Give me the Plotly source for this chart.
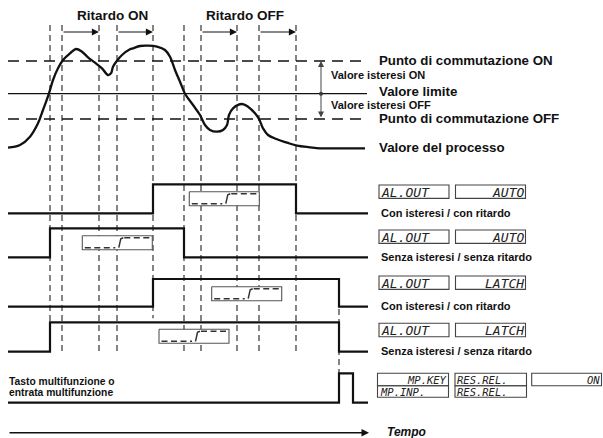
import plotly.graph_objects as go

W, H = 603, 438

# ---------------- data ----------------
# x positions (time) of the dashed event lines
event_times = [50, 62, 99, 117, 153, 184, 201, 237, 259, 296]
reset_time = 339
t_start, t_end = 8, 368

# process value curve (time, value)
process_t = [8, 20, 30, 38, 43, 49, 53, 58, 63, 70, 76, 82, 88, 95, 102, 108, 111,
             113, 117, 122, 130, 133, 140, 148, 157, 165, 170, 175, 180, 185, 193,
             200, 205, 210, 217, 223, 227, 229, 233, 242, 248, 255, 259, 263, 268,
             277, 287, 297, 310, 320, 333, 365]
process_v = [147.7, 145, 136.7, 123.3, 110, 93.3, 80, 68.3, 60, 53.3, 49, 51.7,
             57.3, 62.7, 68.3, 75, 73.3, 66.7, 60.7, 55, 49.3, 48.3, 46, 45.7, 46.7,
             50, 56.7, 70, 81.7, 93.7, 105, 115, 125, 130, 131.7, 130, 125, 115,
             108.3, 104, 106.7, 113.3, 119, 128.3, 135, 139.3, 142.7, 145.7, 147.3,
             148.3, 148.3, 148.3]

switch_on_level = 61
limit_level = 93.7
switch_off_level = 119

# delay intervals (start, end)
delay_on = [(62, 99), (117, 153)]
delay_off = [(201, 237), (259, 296)]

# output signals: switching times and states
sig1_t = [8, 153, 296, 368]
sig1_s = [0, 1, 0, 0]
sig2_t = [8, 50, 184, 368]
sig2_s = [0, 1, 0, 0]
sig3_t = [8, 153, 339, 368]
sig3_s = [0, 1, 0, 0]
sig4_t = [8, 50, 339, 368]
sig4_s = [0, 1, 0, 0]
sig5_t = [8, 339, 353, 368]
sig5_s = [0, 1, 0, 0]

signal_low = [213.3, 257.3, 306.7, 351.7, 402.7]
signal_high = [184.3, 228.3, 279, 322.3, 373.3]

signal_labels = ["Con isteresi / con ritardo", "Senza isteresi / senza ritardo",
                 "Con isteresi / con ritardo", "Senza isteresi / senza ritardo"]
lcd_param = ["AL.OUT", "AL.OUT", "AL.OUT", "AL.OUT"]
lcd_value = ["AUTO", "AUTO", "LATCH", "LATCH"]

# ---------------- figure ----------------
fig = go.Figure()
BLK = "#111111"
FONT = "Liberation Sans, Arial, sans-serif"
LCD_FONT = "DejaVu Sans Mono, monospace"

def add_line(x, y, color=BLK, width=1.0, dash=None, shape="linear", fill=None, fillcolor=None):
    fig.add_trace(go.Scatter(x=x, y=y, mode="lines",
                             line=dict(color=color, width=width, dash=dash, shape=shape),
                             fill=fill, fillcolor=fillcolor,
                             hoverinfo="skip", showlegend=False))

# dashed vertical event lines
vx, vy = [], []
for t in event_times:
    bottom = signal_high[3] - 4 if t == 153 else signal_low[3]
    vx += [t, t, None]
    vy += [25, bottom, None]
vx += [reset_time, reset_time, None]
vy += [signal_high[2], signal_high[4], None]
add_line(vx, vy, color="#222222", width=1.1, dash="6px,4px")

# reference levels
add_line([t_start, 363], [switch_on_level] * 2, width=1.7, dash="11px,7px")
add_line([t_start, 363], [switch_off_level] * 2, width=1.7, dash="11px,7px")
add_line([t_start, 367], [limit_level] * 2, width=1.2)

# process curve
add_line(process_t, process_v, width=2.3, shape="spline")

# signals
sigs = [(sig1_t, sig1_s), (sig2_t, sig2_s), (sig3_t, sig3_s), (sig4_t, sig4_s), (sig5_t, sig5_s)]
for i, (ts, ss) in enumerate(sigs):
    ys = [signal_low[i] + s * (signal_high[i] - signal_low[i]) for s in ss]
    add_line(ts, ys, width=2.2, shape="hv")

# small hysteresis/delay icons
icon_pos = [(189.3, 191.7), (82.3, 235.7), (211.7, 286.7), (159, 329.3)]
for (x0, y0) in icon_pos:
    add_line([x0, x0 + 70, x0 + 70, x0, x0], [y0, y0, y0 + 14, y0 + 14, y0],
             color="#555555", width=1.1, fill="toself", fillcolor="white")
    add_line([x0 + 2.5, x0 + 33], [y0 + 12, y0 + 12], color="#333333", width=1.5, dash="6px,3.5px")
    add_line([x0 + 36.5, x0 + 38.5, x0 + 41], [y0 + 12, y0 + 3, y0 + 2], color="#333333", width=1.5)
    add_line([x0 + 42, x0 + 68], [y0 + 2, y0 + 2], color="#333333", width=1.5, dash="6px,3.5px")

# hysteresis marker dot
fig.add_trace(go.Scatter(x=[321], y=[limit_level], mode="markers",
                         marker=dict(color="#333333", size=4), hoverinfo="skip", showlegend=False))

ann = []
def text(x, y, s, size=13, anchor="left", bold=True, italic=False, color=BLK, family=FONT, pad=1):
    t = s
    if bold:
        t = "<b>" + t + "</b>"
    if italic:
        t = "<i>" + t + "</i>"
    ann.append(dict(x=x, y=y, xref="x", yref="y", text=t, showarrow=False,
                    xanchor=anchor, yanchor="middle", borderpad=pad,
                    font=dict(family=family, size=size, color=color)))

def arrow(x0, y0, x1, y1, width=1.0, head=2, size=1.0, color=BLK, side="end"):
    ann.append(dict(x=x1, y=y1, ax=x0, ay=y0, xref="x", yref="y", axref="x", ayref="y",
                    text="", showarrow=True, arrowhead=head, arrowsize=size,
                    arrowwidth=width, arrowcolor=color, standoff=0, startstandoff=0,
                    arrowside=side, startarrowhead=head, startarrowsize=size))

# delay arrows
for (a, b) in delay_on + delay_off:
    arrow(a, 32, b, 32, width=1.1, head=2, size=1.3)
text(112, 15, "Ritardo ON", size=13.5, anchor="center")
text(245, 15, "Ritardo OFF", size=13.5, anchor="center")

# hysteresis double arrow
arrow(321, switch_off_level, 321, switch_on_level, width=1.0, head=2, size=1.2,
      color="#444444", side="end+start")

# right labels
text(377, 60, "Punto di commutazione ON", size=13.3)
text(329, 75, "Valore isteresi ON", size=11)
text(377, 91.5, "Valore limite", size=13.3)
text(329, 105, "Valore isteresi OFF", size=11)
text(377, 118.5, "Punto di commutazione OFF", size=13.3)
text(377, 147, "Valore del processo", size=13.3)

shapes = []
def lcd_box(x0, x1, y0, y1, s, align, size=13):
    shapes.append(dict(type="rect", xref="x", yref="y", x0=x0, x1=x1, y0=y0, y1=y1,
                       line=dict(color="#444444", width=1.1), fillcolor="rgba(0,0,0,0)"))
    if align == "left":
        text(x0 + 1, (y0 + y1) / 2 + 0.5, s, size=size, anchor="left", bold=False,
             italic=True, color="#222222", family=LCD_FONT, pad=0)
    else:
        text(x1 - 1, (y0 + y1) / 2 + 0.5, s, size=size, anchor="right", bold=False,
             italic=True, color="#222222", family=LCD_FONT, pad=0)

row_tops = [185, 230, 276, 323.3]
for i in range(4):
    y0 = row_tops[i]
    lcd_box(379, 449, y0, y0 + 13.4, lcd_param[i], "left")
    lcd_box(455.5, 525.5, y0, y0 + 13.4, lcd_value[i], "right")
    text(379, signal_low[i] - 0.5, signal_labels[i], size=11)

lcd_box(377.5, 448.5, 373.3, 385.7, "MP.KEY", "right", size=10.5)
lcd_box(455, 526.5, 373.3, 385.7, "RES.REL.", "left", size=10.5)
lcd_box(531.7, 601.5, 373.3, 385.7, "ON", "right", size=10.5)
lcd_box(377.5, 448.5, 385.7, 397.3, "MP.INP.", "left", size=10.5)
lcd_box(455, 526.5, 385.7, 397.3, "RES.REL.", "left", size=10.5)

text(8, 381.5, "Tasto multifunzione o", size=10.3, pad=0)
text(8, 392, "entrata multifunzione", size=10.3, pad=0)

# time axis arrow
arrow(t_start, 432.7, 369, 432.7, width=1.5, head=2, size=1.0)
text(385, 432, "Tempo", size=12, italic=True)

fig.update_layout(
    width=W, height=H, margin=dict(l=0, r=0, t=0, b=0),
    paper_bgcolor="white", plot_bgcolor="white",
    xaxis=dict(range=[0, W], visible=False, fixedrange=True),
    yaxis=dict(range=[H, 0], visible=False, fixedrange=True),
    annotations=ann, shapes=shapes, showlegend=False,
)
fig.write_html("out.html", config={"displayModeBar": False},
               post_script="document.body.style.margin='0';document.body.style.overflow='hidden';")
